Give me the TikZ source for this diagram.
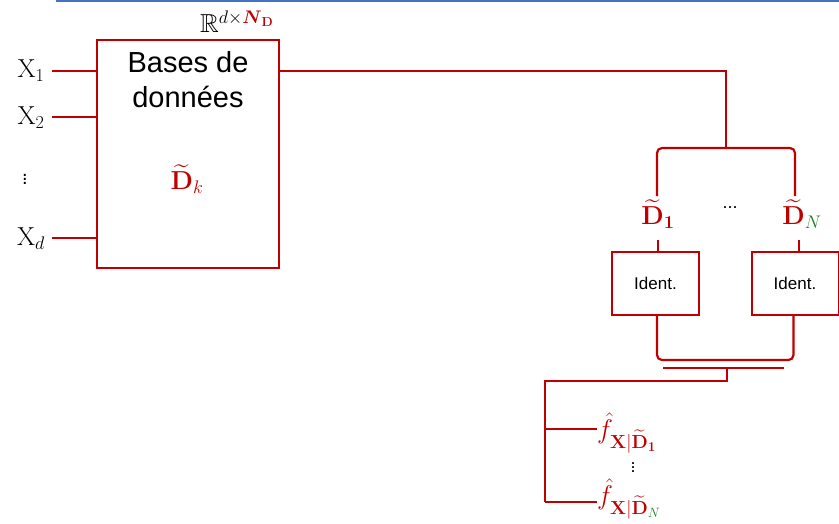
\RequirePackage{fix-cm}
\documentclass[tikz,border=0pt]{standalone}
\usepackage{amsmath,amssymb}
\usepackage[no-math]{fontspec}
\setmainfont{Liberation Sans}
\definecolor{wire}{HTML}{C00000}
\definecolor{dgreen}{HTML}{1E7B1E}
\definecolor{rule}{HTML}{4472C4}
\newcommand{\Dt}{\widetilde{\mathbf{D}}}
\begin{document}
\begin{tikzpicture}[x=1pt,y=-1pt,
  wireline/.style={draw=wire,line width=2.2pt},
  bigbox/.style={draw=wire,line width=2pt,minimum width=182pt,minimum height=228pt,inner sep=0pt},
  identbox/.style={draw=wire,line width=2pt,minimum width=87pt,minimum height=63pt,inner sep=0pt,font=\fontsize{17}{19}\selectfont},
  mlabel/.style={inner sep=0pt,font=\fontsize{26}{30}\selectfont},
  flabel/.style={inner sep=0pt,anchor=west,font=\fontsize{27}{30}\selectfont,text=wire}]
\useasboundingbox (0,0) rectangle (839,523);
% top rule
\draw[rule,line width=1.2pt] (56,1) -- (839,1);

% database block
\node[bigbox] (db) at (188,154) {};
\node[inner sep=0pt,align=center,font=\fontsize{29}{35}\selectfont] (dbtxt) at (188,80) {Bases de\\données};
\node[mlabel,text=wire] (dk) at (187,179) {$\Dt_{k}$};
\node[mlabel,anchor=south] (dim) at (237,33) {$\mathbb{R}^{d\times\textcolor{wire}{\boldsymbol{N}_{\mathbf{D}}}}$};

% inputs
\node[mlabel] (x1) at (31,71) {$\mathrm{X}_1$};
\node[mlabel] (x2) at (31,118) {$\mathrm{X}_2$};
\node[inner sep=0pt,font=\fontsize{20}{22}\selectfont] (xv) at (25,176) {$\vdots$};
\node[mlabel] (xd) at (31,239) {$\mathrm{X}_d$};
\coordinate (i1) at (52,71);
\coordinate (i2) at (52,117);
\coordinate (id) at (52,238);
\draw[wireline] (i1) -- (db.west |- i1);
\draw[wireline] (i2) -- (db.west |- i2);
\draw[wireline] (id) -- (db.west |- id);

% split into the N databases
\coordinate (split) at (726,148);
\node[mlabel,text=wire] (d1) at (658,214) {$\Dt_{\mathbf{1}}$};
\node[mlabel,text=wire] (dN) at (802,214) {$\Dt_{\textcolor{dgreen}{N}}$};
\node[inner sep=0pt,font=\fontsize{18}{20}\selectfont] (dots) at (730,208) {...};
\coordinate (d1top) at (657,196);
\coordinate (dNtop) at (795,196);
\draw[wireline] (db.east |- i1) -| (split);
\draw[wireline,rounded corners=5pt] (d1top) |- (split) -| (dNtop);

% identification blocks
\node[identbox] (id1) at (655.5,283.5) {Ident.};
\node[identbox] (idN) at (795,283.5) {Ident.};
\coordinate (d1b) at (658,240);
\coordinate (dNb) at (799,240);
\draw[wireline] (d1b) -- (d1b |- id1.north);
\draw[wireline] (dNb) -- (dNb |- idN.north);

% merge
\coordinate (join) at (726,360);
\coordinate (busl) at (663,368);
\coordinate (busr) at (784,368);
\coordinate (busc) at (727,368);
\coordinate (drop) at (727,381);
\coordinate (trunk) at (545,381);
\coordinate (br1) at (545,429);
\coordinate (brN) at (545,502);
\draw[wireline,rounded corners=5pt] ([xshift=1.5pt]id1.south) |- (join) -| ([xshift=-1.5pt]idN.south);
\draw[wireline] (busl) -- (busr);
\draw[wireline] (busc) -- (drop) -- (trunk) -- (brN);

% estimated densities
\node[flabel] (f1) at (597,433) {$\hat{f}_{\mathbf{X}|\Dt_{\mathbf{1}}}$};
\node[flabel] (fN) at (597,499) {$\hat{f}_{\mathbf{X}|\Dt_{\textcolor{dgreen}{N}}}$};
\node[inner sep=0pt,font=\fontsize{18}{20}\selectfont] (fv) at (633,465) {$\vdots$};
\draw[wireline] (br1) -- (br1 -| f1.west);
\draw[wireline] (brN) -- (brN -| fN.west);
\end{tikzpicture}
\end{document}
